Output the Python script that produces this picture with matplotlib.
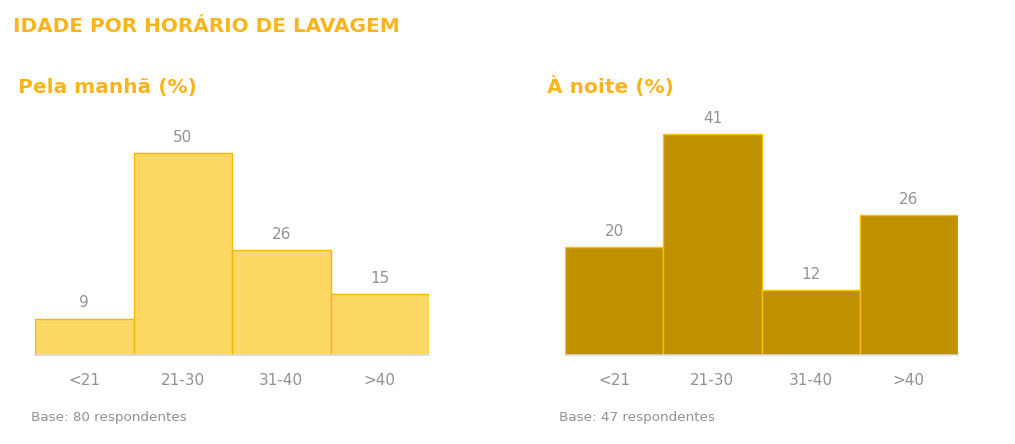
import matplotlib
matplotlib.use("Agg")
import matplotlib.pyplot as plt

categories = ["<21", "21-30", "31-40", ">40"]
manha = [9, 50, 26, 15]
noite = [20, 41, 12, 26]
title = "IDADE POR HORÁRIO DE LAVAGEM"
sub_left = "Pela manhã (%)"
sub_right = "À noite (%)"
base_left = "Base: 80 respondentes"
base_right = "Base: 47 respondentes"

plt.rcParams['font.family'] = ['DejaVu Sans']
W, H = 1015, 444
fig = plt.figure(figsize=(W / 100, H / 100), dpi=100)
fig.patch.set_facecolor("white")

orange = "#F9B51B"
grey = "#929292"

def px_axes(x0, x1, ytop, ybot):
    return fig.add_axes([x0 / W, 1 - ybot / H, (x1 - x0) / W, (ybot - ytop) / H])

def draw(ax, vals, fill, edge, ymax):
    xs = range(len(vals))
    ax.bar(xs, vals, width=1.0, color=fill, edgecolor=edge, linewidth=1.0)
    ax.set_xlim(-0.5, len(vals) - 0.5)
    ax.set_ylim(0, ymax)
    for s in ["top", "right", "left"]:
        ax.spines[s].set_visible(False)
    ax.spines["bottom"].set_color("#D9D9D9")
    ax.spines["bottom"].set_linewidth(1.2)
    ax.set_yticks([])
    ax.set_xticks(list(xs))
    ax.set_xticklabels(categories, color=grey, fontsize=11)
    ax.tick_params(axis="x", length=0, pad=13)
    for x, v in zip(xs, vals):
        ax.annotate(str(v), (x, v), xytext=(0, 6), textcoords="offset points",
                    ha="center", va="bottom", color=grey, fontsize=11)

axl = px_axes(35, 429, 110, 355)
draw(axl, manha, "#FDD865", "#F5B800", 245 / 4.04)
axr = px_axes(565, 958, 110, 355)
draw(axr, noite, "#BF9000", "#FFC000", 245 / 5.39)

fig.text(13 / W, 1 - 27 / H, title, color=orange, fontsize=14.4, fontweight="bold", va="center", ha="left")
fig.text(18 / W, 1 - 87 / H, sub_left, color=orange, fontsize=14.5, fontweight="bold", va="center", ha="left")
fig.text(547 / W, 1 - 87 / H, sub_right, color=orange, fontsize=14.5, fontweight="bold", va="center", ha="left")
fig.text(31 / W, 1 - 417 / H, base_left, color=grey, fontsize=9.7, va="center", ha="left")
fig.text(559 / W, 1 - 417 / H, base_right, color=grey, fontsize=9.7, va="center", ha="left")

fig.savefig("out.png", dpi=100, facecolor="white")
